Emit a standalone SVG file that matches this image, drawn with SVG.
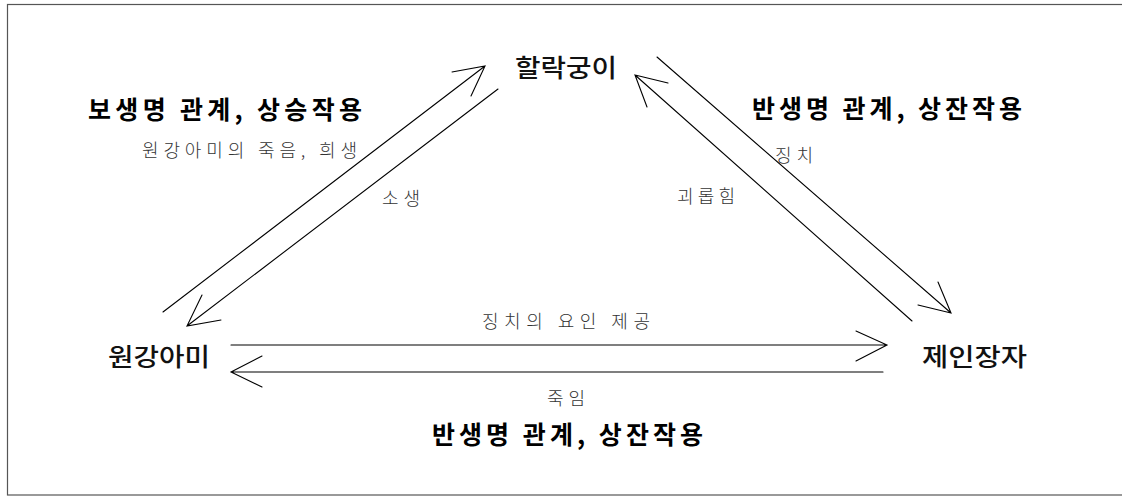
<svg xmlns="http://www.w3.org/2000/svg" width="1122" height="496" viewBox="0 0 1122 496">
<style>
.frame{fill:none;stroke:#555;stroke-width:1.2}
.ln{fill:none;stroke:#000;stroke-width:1.1;stroke-linecap:round}
.node{font-family:"Noto Sans CJK KR","Noto Sans",sans-serif;font-weight:500;font-size:25px;fill:#111}
.head{font-family:"Noto Sans CJK KR","Noto Sans",sans-serif;font-weight:700;font-size:25px;fill:#000}
.lbl{font-family:"Noto Sans CJK KR","Noto Sans",sans-serif;font-weight:300;font-size:18px;fill:#333}
</style>
<rect x="0" y="0" width="1122" height="496" fill="#fff"/>
<rect class="frame" x="7.5" y="4.5" width="1125" height="490.5"/>

<g id="connectors">
  <!-- 원강아미 -> 할락궁이 -->
  <path class="ln" d="M163,312 L485,66 M452,72 L485,66 L471,96"/>
  <!-- 할락궁이 -> 원강아미 -->
  <path class="ln" d="M498,89 L187,326 M202,295 L187,326 L221,320"/>
  <!-- 제인장자 -> 할락궁이 -->
  <path class="ln" d="M912,321 L635,75 M668,83 L635,75 L647,107"/>
  <!-- 할락궁이 -> 제인장자 -->
  <path class="ln" d="M657,57 L951,313 M938,282 L951,313 L918,305"/>
  <!-- 원강아미 -> 제인장자 -->
  <path class="ln" d="M231,345 L887,345 M856,331 L887,345 L856,361"/>
  <!-- 제인장자 -> 원강아미 -->
  <path class="ln" d="M883,372 L231,372 M262,356 L231,372 L262,387"/>
</g>

<g id="node-hallak"><text class="node" x="515" y="77" textLength="102" lengthAdjust="spacingAndGlyphs">할락궁이</text></g>
<g id="node-wongang"><text class="node" x="108" y="366" textLength="102" lengthAdjust="spacingAndGlyphs">원강아미</text></g>
<g id="node-jein"><text class="node" x="922" y="366" textLength="105" lengthAdjust="spacingAndGlyphs">제인장자</text></g>

<g id="labels">
  <text class="head" x="88" y="119" textLength="274" lengthAdjust="spacing">보생명 관계, 상승작용</text>
  <text class="head" x="752" y="118" textLength="270" lengthAdjust="spacing">반생명 관계, 상잔작용</text>
  <text class="head" x="432" y="444" textLength="271" lengthAdjust="spacing">반생명 관계, 상잔작용</text>
  <text class="lbl" x="142" y="157" textLength="215" lengthAdjust="spacing">원강아미의 죽음, 희생</text>
  <text class="lbl" x="382" y="205" textLength="38" lengthAdjust="spacing">소생</text>
  <text class="lbl" x="775" y="162" textLength="38" lengthAdjust="spacing">징치</text>
  <text class="lbl" x="677" y="203" textLength="58" lengthAdjust="spacing">괴롭힘</text>
  <text class="lbl" x="482" y="328" textLength="168" lengthAdjust="spacing">징치의 요인 제공</text>
  <text class="lbl" x="547" y="405" textLength="38" lengthAdjust="spacing">죽임</text>
</g>
</svg>
